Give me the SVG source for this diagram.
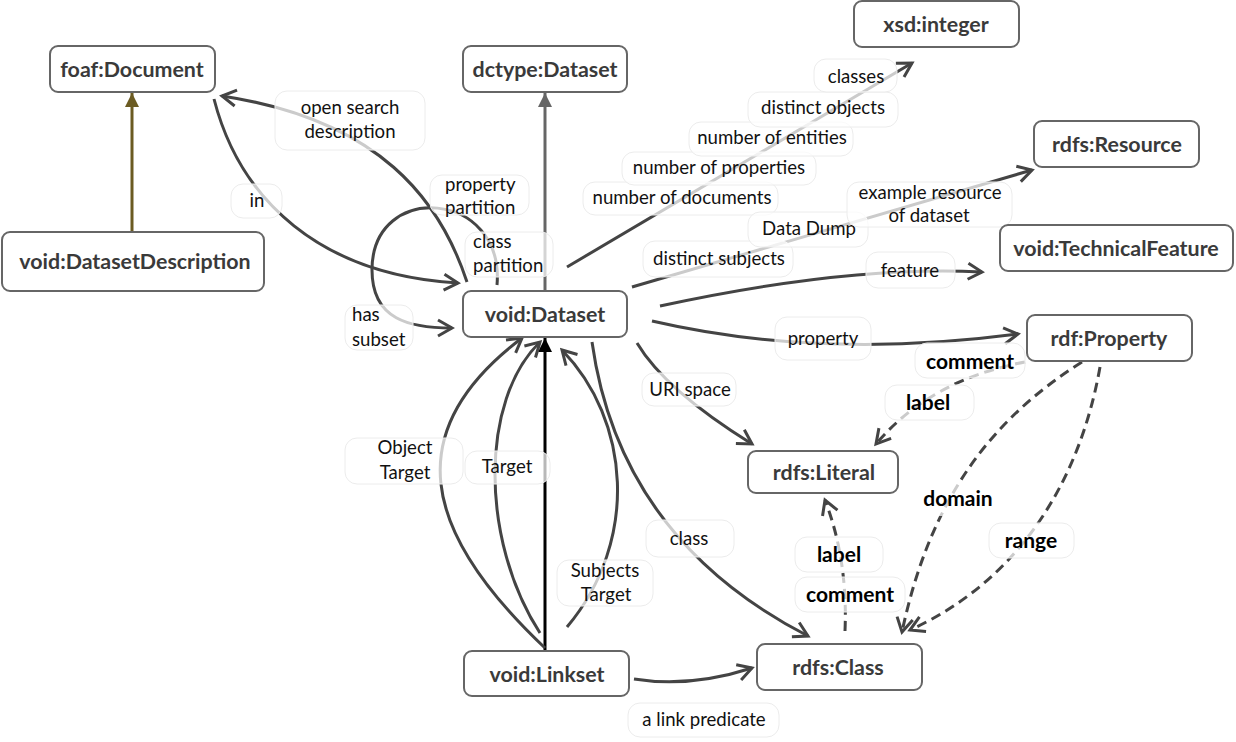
<svg xmlns="http://www.w3.org/2000/svg" width="1236" height="742" viewBox="0 0 1236 742">
<style>
.node rect{fill:#fff;stroke:#666;stroke-width:2}
.node text{font-family:Lato,"Liberation Sans",sans-serif;font-weight:bold;font-size:21.4px;fill:#3a3a3a;text-anchor:middle;dominant-baseline:central}
.e{fill:none;stroke:#444;stroke-width:3}
.d{stroke-dasharray:10 6}
.lb rect{fill:#fff;fill-opacity:0.72;stroke:#ececec;stroke-width:1}
.lb text{font-family:Lato,"Liberation Sans",sans-serif;font-size:18.6px;fill:#111;text-anchor:middle}
.lb text.b{font-weight:bold;font-size:21px;fill:#000}
.lb text.s{text-anchor:start}
</style>
<defs>
<marker id="open" viewBox="0 0 20 20" refX="17" refY="10" markerWidth="20" markerHeight="20" markerUnits="userSpaceOnUse" orient="auto"><path d="M3,2 L17,10 L3,18" fill="none" stroke="#444" stroke-width="3"/></marker>
<marker id="triGray" viewBox="0 0 14 14" refX="14" refY="7" markerWidth="14" markerHeight="14" markerUnits="userSpaceOnUse" orient="auto"><path d="M0,0 L14,7 L0,14 z" fill="#666"/></marker>
<marker id="triOlive" viewBox="0 0 14 14" refX="14" refY="7" markerWidth="14" markerHeight="14" markerUnits="userSpaceOnUse" orient="auto"><path d="M0,0 L14,7 L0,14 z" fill="#6b5b22"/></marker>
<marker id="triBlack" viewBox="0 0 14 14" refX="14" refY="7" markerWidth="14" markerHeight="14" markerUnits="userSpaceOnUse" orient="auto"><path d="M0,0 L14,7 L0,14 z" fill="#000"/></marker>
</defs>
<rect width="1236" height="742" fill="#fff"/>
<g id="connectors">
<path d="M132,232 L132,93" fill="none" stroke="#6b5b22" stroke-width="3" marker-end="url(#triOlive)"/>
<path d="M545,291 L545,93" fill="none" stroke="#666" stroke-width="3" marker-end="url(#triGray)"/>
<path class="e" d="M467,282 C 440,200 380,120 222,96" marker-end="url(#open)"/>
<path class="e" d="M214,99 C 240,200 320,275 458,283" marker-end="url(#open)"/>
<path class="e" d="M497,285 C 505,190 372,180 372,270 C 372,320 410,328 452,328" marker-end="url(#open)"/>
<path class="e" d="M567,267 L912,63" marker-end="url(#open)"/>
<path class="e" d="M632,287 L1032,170" marker-end="url(#open)"/>
<path class="e" d="M660,306 Q 850,265 982,272" marker-end="url(#open)"/>
<path class="e" d="M652,321 Q 820,360 1018,334" marker-end="url(#open)"/>
<path class="e" d="M637,343 Q 665,390 752,444" marker-end="url(#open)"/>
<path class="e" d="M592,342 C 610,470 680,570 808,636" marker-end="url(#open)"/>
<path d="M545,651 L545,338" fill="none" stroke="#000" stroke-width="3" marker-end="url(#triBlack)"/>
<path class="e" d="M545,648 C 420,530 400,430 522,338" stroke="#555" marker-end="url(#open)"/>
<path class="e" d="M540,633 C 480,540 480,400 540,342" marker-end="url(#open)"/>
<path class="e" d="M567,627 C 640,540 630,420 562,350" marker-end="url(#open)"/>
<path class="e" d="M634,679 Q 690,688 752,668" marker-end="url(#open)"/>
<path class="e d" d="M1025,362 Q 930,380 876,444" marker-end="url(#open)"/>
<path class="e d" d="M1082,362 C 990,420 930,500 902,632" marker-end="url(#open)"/>
<path class="e d" d="M1100,367 C 1080,480 1020,580 910,630" marker-end="url(#open)"/>
<path class="e d" d="M845,631 Q 848,560 825,500" marker-end="url(#open)"/>
<g class="lb">
<rect x="275" y="91" width="150" height="59" rx="12"/><text x="350" y="114">open search</text><text x="350" y="138">description</text>
<rect x="231" y="184" width="51" height="34" rx="12"/><text x="257" y="207">in</text>
<rect x="430" y="175" width="99" height="40" rx="12"/><text class="s" x="445" y="191">property</text><text class="s" x="445" y="214">partition</text>
<rect x="465" y="232" width="88" height="45" rx="12"/><text class="s" x="473" y="248">class</text><text class="s" x="473" y="272">partition</text>
<rect x="345" y="305" width="68" height="45" rx="12"/><text class="s" x="352" y="321">has</text><text class="s" x="352" y="346">subset</text>
<rect x="583" y="182" width="195" height="33" rx="12"/><text x="682" y="204">number of documents</text>
<rect x="622" y="152" width="194" height="33" rx="12"/><text x="719" y="174">number of properties</text>
<rect x="689" y="122" width="164" height="34" rx="12"/><text x="772" y="144">number of entities</text>
<rect x="748" y="92" width="150" height="35" rx="12"/><text x="823" y="114">distinct objects</text>
<rect x="814" y="59" width="83" height="33" rx="12"/><text x="856" y="83">classes</text>
<rect x="643" y="241" width="150" height="36" rx="12"/><text x="719" y="265">distinct subjects</text>
<rect x="748" y="212" width="120" height="35" rx="12"/><text x="809" y="235">Data Dump</text>
<rect x="847" y="182" width="165" height="45" rx="12"/><text x="930" y="199">example resource</text><text x="929" y="222">of dataset</text>
<rect x="866" y="252" width="89" height="36" rx="12"/><text x="910" y="277">feature</text>
<rect x="775" y="317" width="96" height="43" rx="12"/><text x="823" y="345">property</text>
<rect x="642" y="373" width="94" height="33" rx="12"/><text x="690" y="396">URI space</text>
<rect x="646" y="520" width="88" height="37" rx="12"/><text x="689" y="545">class</text>
<rect x="345" y="438" width="118" height="46" rx="12"/><text x="405" y="454">Object</text><text x="405" y="479">Target</text>
<rect x="465" y="451" width="85" height="33" rx="12"/><text x="507" y="473">Target</text>
<rect x="557" y="560" width="96" height="46" rx="12"/><text x="605" y="577">Subjects</text><text x="606" y="601">Target</text>
<rect x="628" y="703" width="151" height="34" rx="12"/><text x="704" y="726">a link predicate</text>
<rect x="915" y="343" width="110" height="35" rx="12"/><text class="b" x="970" y="369">comment</text>
<rect x="885" y="385" width="89" height="35" rx="12"/><text class="b" x="928" y="410">label</text>
<rect x="915" y="482" width="88" height="34" rx="12" style="stroke:none"/><text class="b" x="958" y="506">domain</text>
<rect x="989" y="523" width="85" height="35" rx="12"/><text class="b" x="1031" y="548">range</text>
<rect x="795" y="537" width="88" height="35" rx="12"/><text class="b" x="839" y="562">label</text>
<rect x="795" y="577" width="110" height="35" rx="12"/><text class="b" x="850" y="602">comment</text>
</g>
</g>
<g id="foaf-document" class="node"><rect x="50" y="46" width="165" height="46" rx="8"/><text x="132" y="69">foaf:Document</text></g>
<g id="dctype-dataset" class="node"><rect x="463" y="46" width="164" height="46" rx="8"/><text x="545" y="69">dctype:Dataset</text></g>
<g id="xsd-integer" class="node"><rect x="854" y="1" width="165" height="46" rx="8"/><text x="936" y="24">xsd:integer</text></g>
<g id="rdfs-resource" class="node"><rect x="1034" y="121" width="165" height="46" rx="8"/><text x="1117" y="144">rdfs:Resource</text></g>
<g id="void-technicalfeature" class="node"><rect x="1000" y="225" width="233" height="46" rx="8"/><text x="1116" y="248">void:TechnicalFeature</text></g>
<g id="void-datasetdescription" class="node"><rect x="2" y="232" width="262" height="59" rx="8"/><text x="135" y="261">void:DatasetDescription</text></g>
<g id="void-dataset" class="node"><rect x="463" y="291" width="164" height="46" rx="8"/><text x="545" y="314">void:Dataset</text></g>
<g id="rdf-property" class="node"><rect x="1027" y="315" width="165" height="46" rx="8"/><text x="1109" y="338">rdf:Property</text></g>
<g id="rdfs-literal" class="node"><rect x="748" y="451" width="150" height="42" rx="8"/><text x="824" y="472">rdfs:Literal</text></g>
<g id="void-linkset" class="node"><rect x="464" y="651" width="165" height="45" rx="8"/><text x="547" y="674">void:Linkset</text></g>
<g id="rdfs-class" class="node"><rect x="757" y="644" width="165" height="46" rx="8"/><text x="838" y="667">rdfs:Class</text></g>
</svg>
